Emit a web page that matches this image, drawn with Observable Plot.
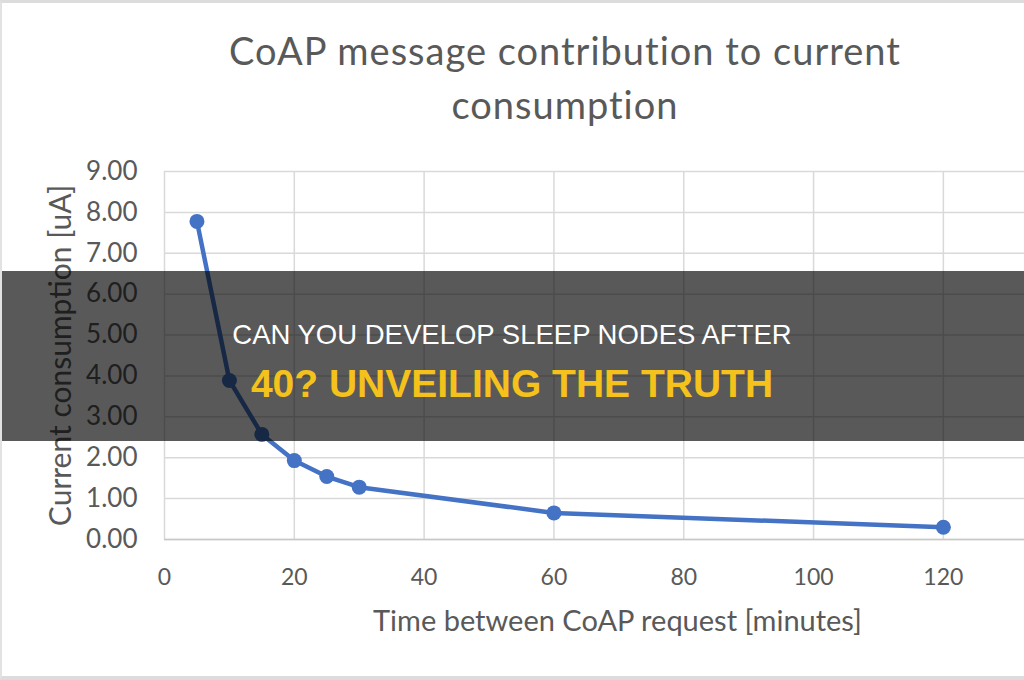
<!DOCTYPE html>
<html><head><meta charset="utf-8">
<script src="https://cdn.jsdelivr.net/npm/d3@7"></script>
<script src="https://cdn.jsdelivr.net/npm/@observablehq/plot@0.6"></script>
<style>
html,body{margin:0;padding:0;background:#fff;}
#wrap{position:relative;width:1024px;height:680px;overflow:hidden;background:#fff;font-family:Lato,"Open Sans",sans-serif;box-sizing:border-box;}
#frame{position:absolute;left:0;top:0;width:1024px;height:680px;box-sizing:border-box;border-top:3px solid #dcdcdc;border-left:2px solid #e2e2e2;border-bottom:4px solid #dcdcdc;pointer-events:none;}
#title{position:absolute;left:0;top:23px;width:1130px;text-align:center;color:#595959;font-size:38px;line-height:54px;letter-spacing:1px;}
#chart{position:absolute;left:0;top:150px;}
#band{position:absolute;left:0;top:271px;width:1024px;height:170px;background:rgba(0,0,0,0.65);font-family:"Liberation Sans",Arial,sans-serif;}
#band .l1{position:absolute;left:0;width:1024px;top:50px;text-align:center;color:#fff;font-size:27.5px;line-height:27px;white-space:nowrap;}
#band .l2{position:absolute;left:0;width:1024px;top:93px;text-align:center;color:#F4C21B;font-size:39px;line-height:39px;font-weight:bold;white-space:nowrap;}
</style></head>
<body>
<div id="wrap">
  <div id="title"></div>
  <div id="chart"></div>
  <div id="band"><div class="l1"></div><div class="l2"></div></div>
  <div id="frame"></div>
</div>
<script>
const titleLines = ["CoAP message contribution to current", "consumption"];
const xLabel = "Time between CoAP request [minutes]";
const yLabel = "Current consumption [uA]";
const bannerLine1 = "CAN YOU DEVELOP SLEEP NODES AFTER";
const bannerLine2 = "40? UNVEILING THE TRUTH";

const minutes = [5, 10, 15, 20, 25, 30, 60, 120];
const currentUA = [7.78, 3.89, 2.57, 1.93, 1.54, 1.28, 0.65, 0.30];
const xTicks = [0, 20, 40, 60, 80, 100, 120];
const yTicks = [0, 1, 2, 3, 4, 5, 6, 7, 8, 9];

const data = minutes.map((m, i) => ({minutes: m, current: currentUA[i]}));

document.getElementById("title").innerHTML = titleLines.join("<br>");
document.querySelector("#band .l1").textContent = bannerLine1;
document.querySelector("#band .l2").textContent = bannerLine2;

const blue = "#4472C4";
const chart = Plot.plot({
  width: 1024,
  height: 530,
  marginLeft: 164,
  marginRight: 0,
  marginTop: 21,
  marginBottom: 141,
  style: {fontFamily: "Lato, 'Open Sans', sans-serif", color: "#595959", background: "transparent", overflow: "visible"},
  x: {domain: [0, 132.5], ticks: xTicks},
  y: {domain: [0, 9], ticks: yTicks},
  marks: [
    Plot.gridX(xTicks, {stroke: "#d9d9d9", strokeOpacity: 1, strokeWidth: 1.5}),
    Plot.gridY(yTicks, {stroke: "#d9d9d9", strokeOpacity: 1, strokeWidth: 1.5}),
    Plot.ruleY([0], {stroke: "#c8c8c8", strokeWidth: 1.5}),
    Plot.axisY(yTicks, {tickSize: 0, tickPadding: 27, fontSize: 26, tickFormat: d3.format(".2f"), label: null}),
    Plot.axisX(xTicks, {tickSize: 0, tickPadding: 29, fontSize: 23, label: null}),
    Plot.line(data, {x: "minutes", y: "current", stroke: blue, strokeWidth: 4.5}),
    Plot.dot(data, {x: "minutes", y: "current", r: 7.5, fill: blue, stroke: "none"}),
    Plot.text([xLabel], {frameAnchor: "bottom", textAnchor: "middle", dx: 23, dy: 91, fontSize: 29, fill: "#595959"}),
    Plot.text([yLabel], {frameAnchor: "left", textAnchor: "middle", rotate: -90, dx: -103, fontSize: 30, fill: "#595959"})
  ]
});
document.getElementById("chart").appendChild(chart);
</script>
</body></html>
